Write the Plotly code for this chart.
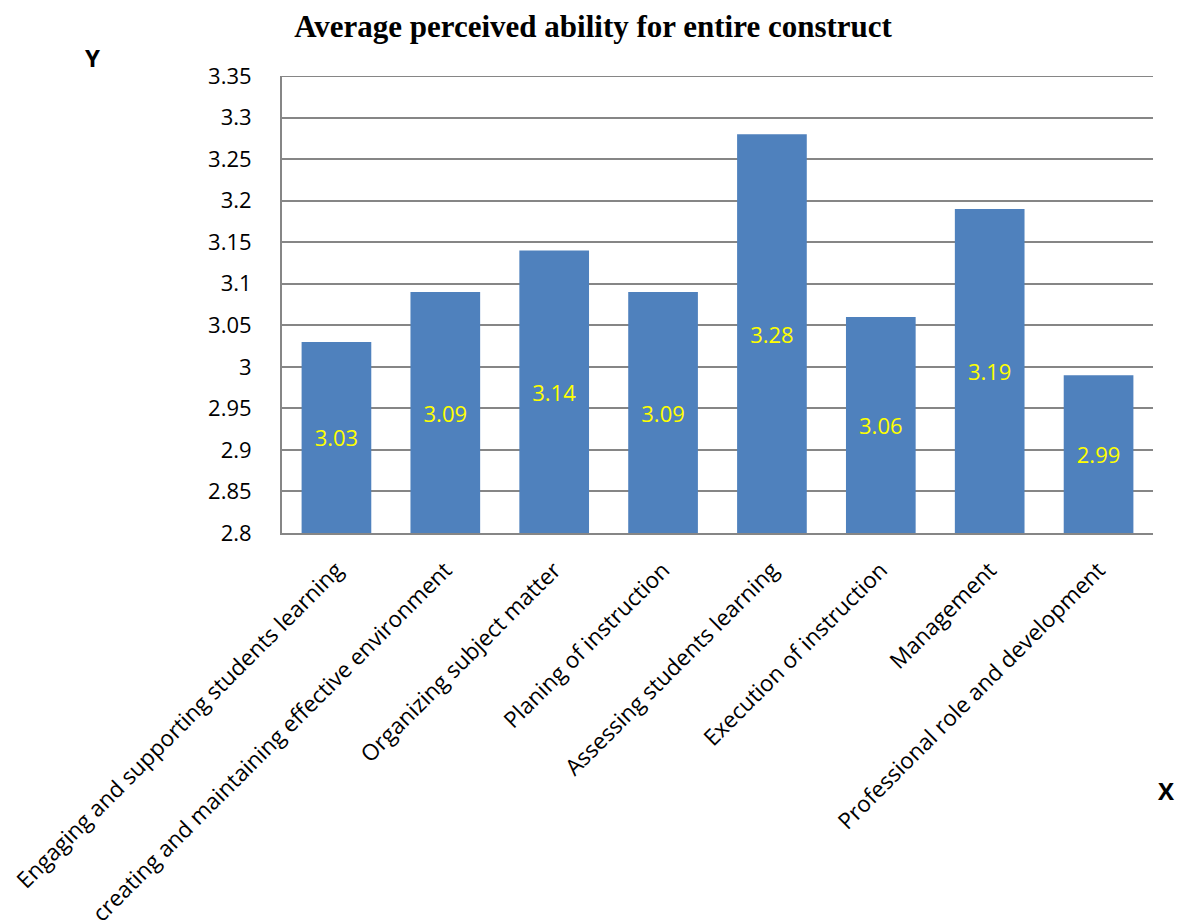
import plotly.graph_objects as go

categories = [
    "Engaging and supporting students learning",
    "creating and maintaining effective environment",
    "Organizing subject matter",
    "Planing of instruction",
    "Assessing students learning",
    "Execution of instruction",
    "Management",
    "Professional role and development",
]
values = [3.03, 3.09, 3.14, 3.09, 3.28, 3.06, 3.19, 2.99]
y_ticks = [2.8, 2.85, 2.9, 2.95, 3.0, 3.05, 3.1, 3.15, 3.2, 3.25, 3.3, 3.35]
y_ticktext = ["2.8", "2.85", "2.9", "2.95", "3", "3.05", "3.1", "3.15", "3.2", "3.25", "3.3", "3.35"]

FONT = "Open Sans"
BASE = 2.8
W, H = 1186, 923
L, R, T, B = 282, 33, 76, 390
PW, PH = W - L - R, H - T - B


def px_x(x):
    return (x - L) / PW


def px_y(y):
    return 1 - (y - T) / PH


fig = go.Figure()
fig.add_trace(go.Bar(
    x=categories,
    y=[v - BASE for v in values],
    base=BASE,
    marker=dict(color="#4F81BD", line=dict(width=0)),
    width=0.64,
    text=[f"{v:.2f}" for v in values],
    textposition="inside",
    insidetextanchor="middle",
    textangle=0,
    textfont=dict(family=FONT, size=22, color="#FFFF00"),
    hoverinfo="skip",
))

fig.update_layout(
    width=W, height=H,
    margin=dict(l=L, r=R, t=T, b=B),
    paper_bgcolor="white", plot_bgcolor="white",
    showlegend=False,
    uniformtext=dict(minsize=22, mode="show"),
    title=dict(
        text="<b>Average perceived ability for entire construct</b>",
        font=dict(family="Liberation Serif", size=31, color="black"),
        x=px_x(593), xanchor="center", xref="paper",
        y=1 - 26 / H, yanchor="middle", yref="container",
    ),
    font=dict(family=FONT, size=22, color="black"),
)
fig.update_xaxes(
    tickangle=-45,
    tickfont=dict(family=FONT, size=22.5, color="black"),
    showline=True, linecolor="#868686", linewidth=2,
    showgrid=False, ticks="", automargin=False,
    ticklabelstandoff=13,
)
fig.update_yaxes(
    range=[2.8, 3.35],
    tickvals=y_ticks, ticktext=y_ticktext,
    tickfont=dict(family=FONT, size=22, color="black"),
    showline=True, linecolor="#868686", linewidth=2,
    showgrid=True, gridcolor="#868686", gridwidth=2,
    zeroline=False, ticks="", automargin=False,
    ticklabelstandoff=24,
)
# top gridline at the range edge
fig.add_shape(type="line", xref="paper", yref="y", x0=0, x1=1, y0=3.35, y1=3.35,
              line=dict(color="#868686", width=2), layer="below")
fig.add_annotation(text="<b>Y</b>", x=px_x(92), y=px_y(58), xref="paper", yref="paper",
                   xanchor="center", yanchor="middle",
                   showarrow=False, font=dict(family=FONT, size=24, color="black"))
fig.add_annotation(text="<b>X</b>", x=px_x(1166), y=px_y(790), xref="paper", yref="paper",
                   xanchor="center", yanchor="middle",
                   showarrow=False, font=dict(family=FONT, size=24, color="black"))

fig.write_html("out.html")
